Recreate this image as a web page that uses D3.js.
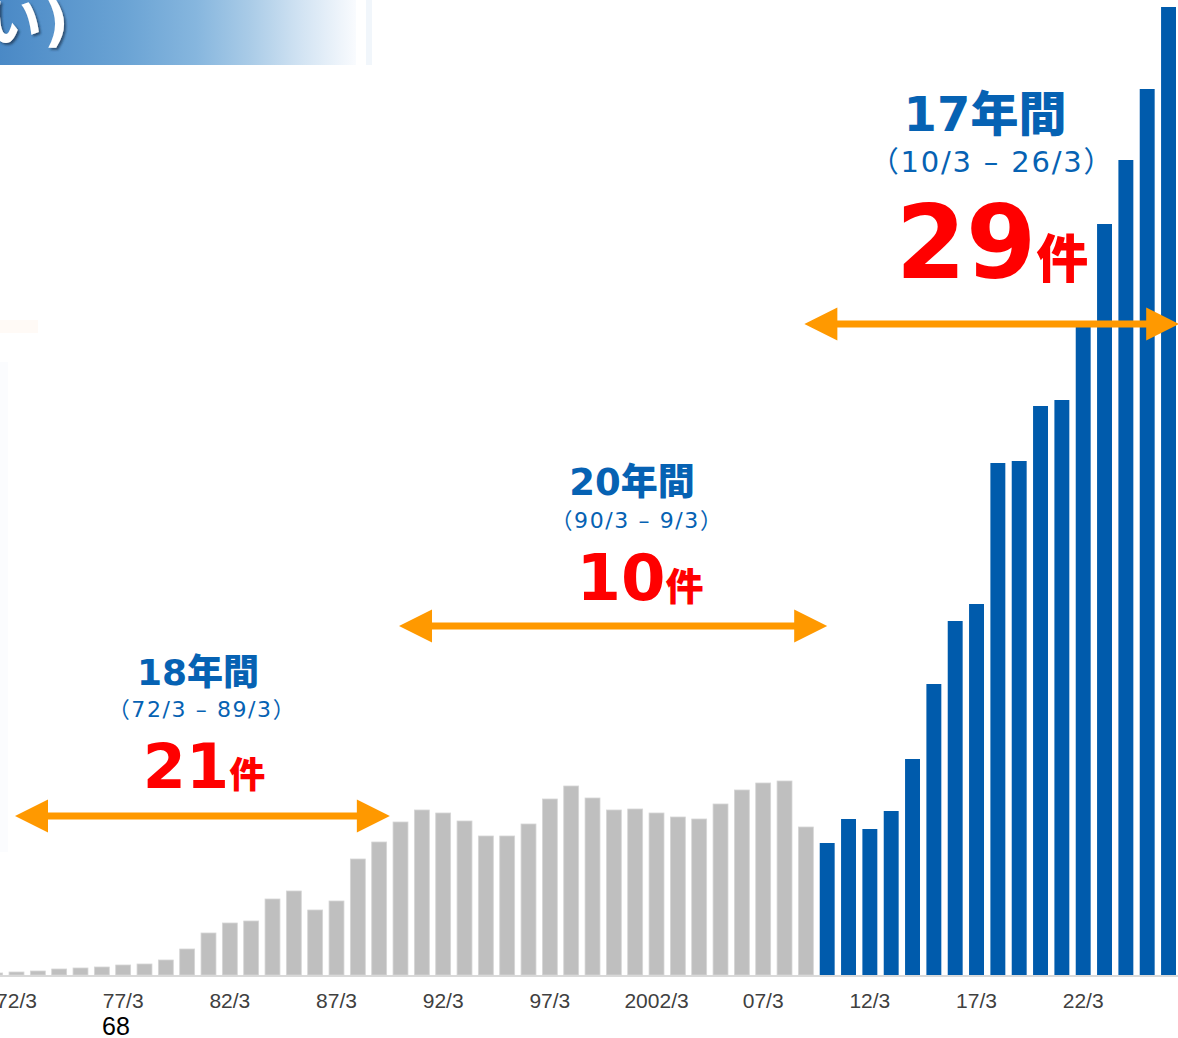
<!DOCTYPE html>
<html><head><meta charset="utf-8">
<script src="https://cdn.jsdelivr.net/npm/d3@7"></script>
<style>
html,body{margin:0;padding:0;background:#fff;}
svg{display:block;}
</style></head>
<body>
<svg id="chart" width="1178" height="1038"></svg>
<script>
// ---- data ----
const years = ["71/3","72/3","73/3","74/3","75/3","76/3","77/3","78/3","79/3","80/3",
  "81/3","82/3","83/3","84/3","85/3","86/3","87/3","88/3","89/3","90/3",
  "91/3","92/3","93/3","94/3","95/3","96/3","97/3","98/3","99/3","2000/3",
  "01/3","2002/3","03/3","04/3","05/3","06/3","07/3","08/3","09/3","10/3",
  "11/3","12/3","13/3","14/3","15/3","16/3","17/3","18/3","19/3","20/3",
  "21/3","22/3","23/3","24/3","25/3","26/3"];
const values = [2,3,4,6,7,8,10,11,15,26,
  42,52,54,76,84,65,74,116,133,153,
  165,162,154,139,139,151,176,189,177,165,
  166,162,158,156,171,185,192,194,148,132,
  156,146,164,216,291,354,371,512,514,569,
  575,652,751,815,886,968];
const highlightFrom = "10/3";
const tickLabels = ["72/3","77/3","82/3","87/3","92/3","97/3","2002/3","07/3","12/3","17/3","22/3"];
const periodTitles = ["18年間","20年間","17年間"];
const periodRanges = ["（72/3 – 89/3）","（90/3 – 9/3）","（10/3 – 26/3）"];
const periodCounts = ["21","10","29"];
// arrow ends expressed as fractional category indices
const arrowFrom = [1, 19, 38];
const arrowTo = [18.5, 39, 55.5];

// ---- layout ----
const W = 1178, H = 1038;
const baseY = 975;
const svg = d3.select("#chart");

const x = d3.scaleBand().domain(years).range([-15.5, 1179.2]).paddingInner(0.3).paddingOuter(0.15);
const step = x.step();
const xc = i => x(years[0]) + x.bandwidth()/2 + i*step;
const y = d3.scaleLinear().domain([0, 1000]).range([baseY, baseY - 1000]);

// header banner
const defs = svg.append("defs");
const g = defs.append("linearGradient").attr("id","ban").attr("x1",0).attr("x2",1).attr("y1",0).attr("y2",0);
[[0,"#4a89c6"],[0.35,"#6aa3d4"],[0.55,"#86b6de"],[0.7,"#a9cbe7"],[0.85,"#d3e4f3"],[1,"#f9fbfe"]]
  .forEach(([o,c])=>g.append("stop").attr("offset",o).attr("stop-color",c));
svg.append("rect").attr("x",0).attr("y",0).attr("width",356).attr("height",65).attr("fill","url(#ban)");
svg.append("rect").attr("x",366).attr("y",0).attr("width",6).attr("height",65).attr("fill","#f1f6fb");
const f = defs.append("filter").attr("id","sh").attr("x","-20%").attr("y","-20%").attr("width","140%").attr("height","140%");
f.append("feDropShadow").attr("dx",2).attr("dy",2).attr("stdDeviation",1).attr("flood-color","#1f3550").attr("flood-opacity",0.7);
const tt = svg.append("text").attr("x",-14).attr("y",41).attr("fill","#fff").attr("filter","url(#sh)")
  .style("font-weight",700);
tt.append("tspan").style("font-family","'Noto Sans CJK JP'").style("font-size","56px").text("い");
tt.append("tspan").style("font-family","'DejaVu Sans'").style("font-size","54px").attr("dx",2).text(")");

// faint decorations on left edge
svg.append("rect").attr("x",0).attr("y",320).attr("width",38).attr("height",13).attr("fill","#fffaf6");
svg.append("rect").attr("x",0).attr("y",362).attr("width",8).attr("height",490).attr("fill","#fbfcfe");

// axis line
svg.append("line").attr("x1",0).attr("x2",W).attr("y1",baseY+1).attr("y2",baseY+1)
  .attr("stroke","#d9d9d9").attr("stroke-width",2);

// bars
const hiIdx = years.indexOf(highlightFrom);
svg.append("g").selectAll("rect").data(years).join("rect")
  .attr("x", d => x(d))
  .attr("width", x.bandwidth())
  .attr("y", (d,i) => y(values[i]))
  .attr("height", (d,i) => y(0) - y(values[i]))
  .attr("fill", (d,i) => i >= hiIdx ? "#005bac" : "#bfbfbf")
  .attr("stroke", (d,i) => i >= hiIdx ? "none" : "#d6d6d6")
  .attr("stroke-width", 0.8);

// x axis
const ax = svg.append("g").attr("transform",`translate(0,${baseY})`)
  .call(d3.axisBottom(x).tickValues(tickLabels).tickSize(0).tickPadding(0));
ax.select(".domain").remove();
ax.selectAll("text").attr("y",33).attr("dy",0)
  .style("font-family","'Liberation Sans', Arial, sans-serif").style("font-size","21px").attr("fill","#404040");

// page number
svg.append("text").attr("x",116).attr("y",1035).attr("text-anchor","middle")
  .style("font-family","'Liberation Sans', Arial, sans-serif").style("font-size","25px").attr("fill","#000").text("68");

// arrows
const arrowY = [816, 626, 324];
const orange = "#ff9900";
function arrow(x1, x2, yy){
  const hl = 33, hh = 16.5, sh = 3.5;
  const p = d3.path();
  p.moveTo(x1, yy); p.lineTo(x1+hl, yy-hh); p.lineTo(x1+hl, yy-sh);
  p.lineTo(x2-hl, yy-sh); p.lineTo(x2-hl, yy-hh); p.lineTo(x2, yy);
  p.lineTo(x2-hl, yy+hh); p.lineTo(x2-hl, yy+sh); p.lineTo(x1+hl, yy+sh);
  p.lineTo(x1+hl, yy+hh); p.closePath();
  svg.append("path").attr("d", p.toString()).attr("fill", orange);
}
arrowFrom.forEach((a,i)=>arrow(xc(a)-1.5, xc(arrowTo[i]), arrowY[i]));

// annotations
const blue = "#0662b3";
const ann = [
  {cx:198, ty:685, ts:36, ry:717, rs:22, ls:1.6, rcx:202, cy:788, cs:62, ks:36, ccx:204},
  {cx:632, ty:495, ts:37, ry:528, rs:22, ls:1.6, rcx:637, cy:600, cs:64, ks:38, ccx:640},
  {cx:985, ty:131, ts:48, ry:172, rs:29, ls:1.8, rcx:992, cy:278, cs:101, ks:52, ccx:992}
];
ann.forEach((a,i)=>{
  const title = periodTitles[i];
  const t = svg.append("text").attr("x",a.cx).attr("y",a.ty).attr("text-anchor","middle").attr("fill",blue)
    .style("font-size",a.ts+"px").style("font-weight",700);
  t.append("tspan").style("font-family","'DejaVu Sans'").text(title.slice(0,2));
  t.append("tspan").style("font-family","'Noto Sans CJK JP'").style("font-weight",900).text(title.slice(2));
  svg.append("text").attr("x",a.rcx).attr("y",a.ry).attr("text-anchor","middle").attr("fill",blue)
    .style("font-size",a.rs+"px").style("letter-spacing",a.ls+"px")
    .style("font-family","'DejaVu Sans','Noto Sans CJK JP'").text(periodRanges[i]);
  const c = svg.append("text").attr("x",a.ccx).attr("y",a.cy).attr("text-anchor","middle").attr("fill","#ff0000")
    .style("font-weight",700);
  c.append("tspan").style("font-family","'DejaVu Sans'").style("font-size",a.cs+"px").text(periodCounts[i]);
  c.append("tspan").style("font-family","'Noto Sans CJK JP'").style("font-weight",900).style("font-size",a.ks+"px").text("件");
});
</script>
</body></html>
